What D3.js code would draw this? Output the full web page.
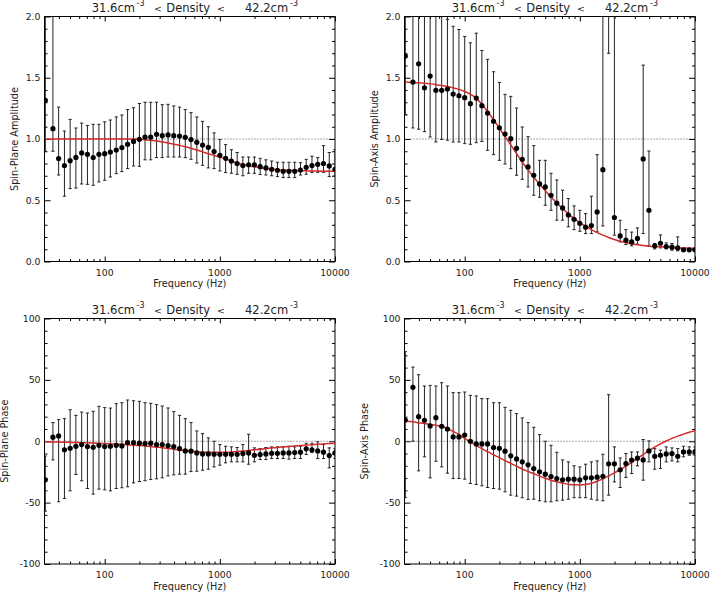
<!DOCTYPE html>
<html><head><meta charset="utf-8">
<script src="https://cdn.jsdelivr.net/npm/d3@7"></script>
<style>
body{margin:0;background:#fff}
text{font-family:"DejaVu Sans",sans-serif;fill:#222}
</style>
</head><body>
<svg id="chart" width="710" height="593" xmlns="http://www.w3.org/2000/svg"></svg>
<script>
// ---------- data ----------
const freq = [30.5, 35.5, 39.8, 44.7, 50.1, 56.2, 63.1, 70.8, 79.4, 89.1,
  100, 112, 126, 141, 158, 178, 200, 224, 251, 282, 316, 355, 398, 447, 501, 562, 631, 708, 794, 891,
  1000, 1122, 1259, 1413, 1585, 1778, 1995, 2239, 2512, 2818, 3162, 3548, 3981, 4467, 5012, 5623, 6310, 7079, 7943, 8913, 10000];

// Spin-plane amplitude
const spAmp = [1.315,1.084,0.84,0.783,0.823,0.85,0.886,0.875,0.848,0.875,
  0.88,0.894,0.91,0.93,0.957,0.98,0.997,1.016,1.016,1.038,
  1.027,1.033,1.027,1.024,1.014,0.995,0.973,0.951,0.932,0.897,
  0.867,0.842,0.82,0.80,0.783,0.79,0.79,0.774,0.764,0.753,
  0.745,0.736,0.736,0.736,0.747,0.769,0.783,0.793,0.80,0.78,0.753];
const spAmpHi = [2.6,2.3,1.26,1.065,1.16,1.09,1.13,1.11,1.12,1.12,
  1.14,1.155,1.18,1.196,1.24,1.255,1.29,1.30,1.30,1.30,
  1.28,1.283,1.27,1.26,1.24,1.215,1.18,1.144,1.10,1.05,
  0.995,0.954,0.913,0.89,0.853,0.853,0.853,0.842,0.83,0.82,
  0.81,0.81,0.81,0.81,0.807,0.834,0.859,0.848,0.946,0.89,0.913];
const spAmpLo = [0.9,0.90,0.706,0.533,0.595,0.60,0.633,0.63,0.622,0.65,
  0.663,0.69,0.717,0.734,0.758,0.78,0.777,0.83,0.83,0.848,
  0.848,0.853,0.853,0.853,0.848,0.834,0.804,0.785,0.764,0.758,
  0.739,0.726,0.72,0.712,0.70,0.72,0.72,0.71,0.706,0.70,
  0.693,0.685,0.685,0.685,0.706,0.712,0.726,0.728,0.728,0.693,0.70];
const spAmpModel = [1,1,1,1,1,1,1,1,1,1,1,1,1,1,1,1,
  0.998,0.994,0.99,0.983,0.976,0.968,0.958,0.948,0.937,0.924,
  0.91,0.895,0.88,0.866,0.852,0.837,0.82,0.805,0.792,0.782,
  0.773,0.766,0.76,0.754,0.75,0.747,0.745,0.743,0.741,0.74,
  0.739,0.738,0.737,0.736,0.736];

// Spin-axis amplitude
const saAmp = [1.677,1.465,1.614,1.418,1.514,1.397,1.397,1.408,1.367,1.353,
  1.337,1.288,1.334,1.272,1.212,1.144,1.092,1.04,1.003,0.924,
  0.834,0.772,0.704,0.633,0.609,0.541,0.476,0.437,0.38,0.345,
  0.312,0.28,0.293,0.405,0.75,2.6,0.359,0.209,0.174,0.16,
  0.188,0.837,0.418,0.128,0.149,0.122,0.117,0.111,0.095,0.095,0.095];
const saAmpHi = [2.5,2.3,2.3,2.3,2.3,2.2,2.2,1.976,1.92,1.894,
  1.837,1.785,1.864,1.723,1.65,1.549,1.462,1.364,1.348,1.253,
  1.098,1.019,0.946,0.826,0.826,0.72,0.666,0.582,0.514,0.454,
  0.418,0.391,0.533,0.872,2.5,4.0,2.4,0.337,0.26,0.24,
  0.274,1.603,0.902,0.147,0.217,0.152,0.147,0.201,0.106,0.106,0.11];
const saAmpLo = [1.2,1.09,1.08,1.06,1.016,0.976,0.997,0.99,0.976,0.976,
  0.962,0.957,0.97,0.98,0.908,0.872,0.826,0.796,0.758,0.704,
  0.671,0.609,0.541,0.524,0.459,0.418,0.337,0.337,0.283,0.26,
  0.247,0.228,0.228,0.242,0.29,1.70,0.215,0.16,0.139,0.128,
  0.141,0.228,0.128,0.103,0.111,0.103,0.092,0.087,0.082,0.082,0.085];
const saAmpModel = [1.465,1.462,1.459,1.455,1.45,1.444,1.437,1.428,1.417,1.405,
  1.388,1.366,1.332,1.283,1.224,1.157,1.088,1.02,0.952,0.882,
  0.812,0.748,0.688,0.632,0.578,0.527,0.478,0.432,0.389,0.35,
  0.318,0.288,0.26,0.236,0.215,0.196,0.18,0.166,0.155,0.144,
  0.136,0.13,0.125,0.122,0.12,0.117,0.114,0.111,0.11,0.109,0.108];

// Spin-plane phase
const spPh = [-31.4,3.3,4.3,-7.0,-5.7,-4.1,-2.7,-4.3,-4.9,-3.3,
  -4.3,-4.1,-3.3,-3.8,-1.1,-1.1,-1.6,-1.9,-1.6,-2.7,
  -2.7,-3.5,-4.3,-6.0,-7.9,-8.1,-9.5,-10.3,-10.3,-10.6,
  -10.6,-10.6,-10.6,-10.6,-10.0,-9.5,-11.4,-10.8,-10.3,-9.8,
  -9.8,-9.5,-9.5,-9.2,-8.9,-6.2,-7.0,-7.9,-8.9,-11.7,-9.5];
const spPhHi = [-12,15.2,17.6,18.4,25.7,21.1,23.8,23,24.4,28.5,
  27.4,27,30.6,31.4,33.6,33,32.5,31.4,30.9,29.8,
  28.7,27.1,24.1,21.1,18.4,15.2,8.4,6.2,2.7,0,
  -2.7,-4.1,-4.6,-5.1,-2.7,5.7,-5.4,-6,-5.1,-4.6,
  -4.6,-4.6,-4.1,-4.6,-4.1,-1.6,-1.6,-0.5,-2.7,-5.4,-6];
const spPhLo = [-57,-15.2,-49.3,-46.6,-40.4,-27.1,-32.2,-38.5,-43,-39,
  -39.6,-40.4,-38.5,-37.9,-37.1,-33.9,-32.8,-32.2,-31.2,-30.6,
  -29.8,-28.2,-27.4,-26.8,-26.8,-24.7,-24.4,-23.6,-22.8,-20.9,
  -19.5,-17.6,-16.8,-16.8,-16.8,-18.7,-16.8,-14.9,-14.9,-14.1,
  -14.1,-14.1,-14.6,-14.1,-14.1,-10.8,-9.2,-14.1,-14.1,-21.7,-14];
const spPhModel = [-0.5,-0.6,-0.7,-0.8,-0.9,-1.0,-1.2,-1.3,-1.5,-1.7,
  -1.9,-2.1,-2.3,-2.6,-2.9,-3.2,-3.5,-3.9,-4.3,-4.8,
  -5.3,-5.9,-6.5,-7.1,-7.6,-8.1,-8.5,-8.8,-9.0,-9.0,
  -9.0,-8.9,-8.7,-8.4,-8.0,-7.5,-7.0,-6.5,-6.0,-5.5,
  -5.0,-4.6,-4.2,-3.8,-3.4,-3.1,-2.8,-2.5,-2.2,-1.9,-1.7];

// Spin-axis phase
const saPh = [17.3,43.9,20,17.1,12.5,19.2,12.2,10,3.5,3.5,
  5.1,0,-2.2,-2.2,-2.2,-5.1,-5.7,-8.1,-11.9,-14.4,
  -16.8,-19.2,-22.2,-24.9,-26.8,-28.7,-30.4,-31.4,-30.9,-30.9,
  -31.4,-29.8,-29.8,-29.3,-28.5,-18.4,-18.4,-23.3,-18.2,-15.4,
  -13.8,-15.2,-7.9,-12.2,-11.4,-10.3,-10,-12.2,-8.7,-8.7,-8.4];
const saPhHi = [73,60.4,54.2,45,45.5,45,47.7,45,39.6,39.6,
  40.1,37.4,36.9,34.7,34.7,31.4,31.4,27.6,25.2,22.5,
  19,15.2,11.4,5.4,0,-3.3,-9,-15.2,-16.8,-20,
  -20.9,-18.7,-16.8,-16,-10.6,37.9,-4.6,-13.6,-10,-8.7,
  -8.7,1.4,0.3,-6,-7.3,-4.6,-5.4,-6,-4.1,-4.6,-4.6];
const saPhLo = [-46,0,-24.1,-12.7,-29.8,-16.3,-20.9,-26,-30.4,-30.4,
  -30.9,-34.4,-35.2,-36.3,-37.7,-38.5,-39,-41.2,-43.9,-44.7,
  -46,-47.4,-47.2,-48.5,-49.3,-49.3,-48.5,-48,-47.2,-46,
  -46,-46,-47.2,-48,-48.5,-43.9,-33.1,-37.7,-29.5,-26.3,
  -20,-31.7,-16.8,-22.8,-22.2,-16.8,-16,-16.8,-12.7,-11.4,-11.4];
const saPhModel = [16.5,15.8,15.1,14.4,13.7,13.0,12.0,10.5,8.0,5.5,
  2.4,-0.5,-3.3,-6.0,-8.5,-11.0,-13.4,-15.8,-18.0,-20.3,
  -22.6,-24.6,-26.5,-28.4,-30.1,-31.7,-33.0,-34.1,-35.0,-35.5,
  -35.6,-35.2,-34.2,-32.6,-30.6,-28.2,-25.7,-23.0,-20.2,-17.2,
  -14.0,-10.8,-7.7,-4.8,-2.2,0.2,2.3,4.2,5.8,7.3,8.6];

// ticks / labels
const xMajorTicks = [100, 1000, 10000];
const xTickLabels = ["100", "1000", "10000"];
const ampTicks = [0, 0.5, 1.0, 1.5, 2.0];
const ampTickLabels = ["0.0", "0.5", "1.0", "1.5", "2.0"];
const phTicks = [-100, -50, 0, 50, 100];
const phTickLabels = ["-100", "-50", "0", "50", "100"];
const titleParts = {lo: "31.6cm", hi: "42.2cm", exp: "-3", mid: "Density", lt: "<"};

// ---------- layout ----------
const svg = d3.select("#chart");
svg.append("rect").attr("width", 710).attr("height", 593).attr("fill", "#fff");

const xMinor = [];
[10, 100, 1000].forEach(d => { for (let k = 2; k <= 9; k++) { const v = d * k; if (v > 30 && v < 10000) xMinor.push(v); } });

const panels = [
  {id: "tl", x0: 44.5, x1: 335, y0: 16.5, y1: 261.5, dom: [0, 2], ticks: ampTicks, tlabels: ampTickLabels, minorStep: 0.1,
   val: spAmp, lo: spAmpLo, hi: spAmpHi, model: spAmpModel, ref: 1, label: "Spin-Plane Amplitude", labX: 18},
  {id: "tr", x0: 404.5, x1: 695, y0: 16.5, y1: 261.5, dom: [0, 2], ticks: ampTicks, tlabels: ampTickLabels, minorStep: 0.1,
   val: saAmp, lo: saAmpLo, hi: saAmpHi, model: saAmpModel, ref: 1, label: "Spin-Axis Amplitude", labX: 378},
  {id: "bl", x0: 44.5, x1: 335, y0: 318.5, y1: 564, dom: [-100, 100], ticks: phTicks, tlabels: phTickLabels, minorStep: 10,
   val: spPh, lo: spPhLo, hi: spPhHi, model: spPhModel, ref: 0, label: "Spin-Plane Phase", labX: 8},
  {id: "br", x0: 404.5, x1: 695, y0: 318.5, y1: 564, dom: [-100, 100], ticks: phTicks, tlabels: phTickLabels, minorStep: 10,
   val: saPh, lo: saPhLo, hi: saPhHi, model: saPhModel, ref: 0, label: "Spin-Axis Phase", labX: 368}
];

const defs = svg.append("defs");

panels.forEach(p => {
  const x = d3.scaleLog().domain([30, 10000]).range([p.x0, p.x1]);
  const y = d3.scaleLinear().domain(p.dom).range([p.y1, p.y0]);
  const g = svg.append("g");

  defs.append("clipPath").attr("id", "clip-" + p.id)
    .append("rect").attr("x", p.x0).attr("y", p.y0).attr("width", p.x1 - p.x0).attr("height", p.y1 - p.y0);

  const yMinor = d3.range(p.dom[0], p.dom[1] + p.minorStep / 2, p.minorStep)
    .filter(v => !p.ticks.some(t => Math.abs(t - v) < 1e-6));

  // axes (ticks inward, all four sides)
  const axes = [
    [d3.axisBottom(x).tickValues(xMajorTicks).tickSize(-5), `translate(0,${p.y1})`],
    [d3.axisBottom(x).tickValues(xMinor).tickSize(-2.5), `translate(0,${p.y1})`],
    [d3.axisTop(x).tickValues(xMajorTicks).tickSize(-5), `translate(0,${p.y0})`],
    [d3.axisTop(x).tickValues(xMinor).tickSize(-2.5), `translate(0,${p.y0})`],
    [d3.axisLeft(y).tickValues(p.ticks).tickSize(-6), `translate(${p.x0},0)`],
    [d3.axisLeft(y).tickValues(yMinor).tickSize(-3), `translate(${p.x0},0)`],
    [d3.axisRight(y).tickValues(p.ticks).tickSize(-6), `translate(${p.x1},0)`],
    [d3.axisRight(y).tickValues(yMinor).tickSize(-3), `translate(${p.x1},0)`]
  ];
  axes.forEach(([ax, tr]) => {
    const a = g.append("g").attr("transform", tr).call(ax.tickFormat("").tickSizeOuter(0));
    a.select(".domain").remove();
    a.selectAll("line").attr("stroke", "#000").attr("stroke-width", 1);
  });

  // frame
  g.append("rect").attr("x", p.x0).attr("y", p.y0).attr("width", p.x1 - p.x0).attr("height", p.y1 - p.y0)
    .attr("fill", "none").attr("stroke", "#000").attr("stroke-width", 1);

  // tick labels
  g.selectAll(".xl").data(xMajorTicks).join("text")
    .attr("x", d => x(d)).attr("y", p.y1 + 14.3).attr("text-anchor", "middle")
    .attr("font-size", 9.3).text((d, i) => xTickLabels[i]);
  g.selectAll(".yl").data(p.ticks).join("text")
    .attr("x", p.x0 - 4).attr("y", d => y(d)).attr("dy", "0.36em").attr("text-anchor", "end")
    .attr("font-size", 9.3).text((d, i) => p.tlabels[i]);

  // axis titles
  g.append("text").attr("x", (p.x0 + p.x1) / 2).attr("y", p.y1 + 25.8).attr("text-anchor", "middle")
    .attr("font-size", 9.7).text("Frequency (Hz)");
  g.append("text").attr("transform", `translate(${p.labX},${(p.y0 + p.y1) / 2}) rotate(-90)`)
    .attr("text-anchor", "middle").attr("font-size", 9.7).text(p.label);

  // title
  const ty = p.y0 - 4.5;
  const t = g.append("text").attr("y", ty).attr("font-size", 11.5);
  t.append("tspan").attr("x", p.x0 + 47.3).text(titleParts.lo);
  t.append("tspan").attr("x", p.x0 + 92).attr("y", ty - 6.5).attr("font-size", 8).text(titleParts.exp);
  t.append("tspan").attr("x", p.x0 + 109.5).attr("y", ty).attr("font-size", 9.5).text(titleParts.lt);
  t.append("tspan").attr("x", p.x0 + 121.8).attr("font-size", 11.5).text(titleParts.mid);
  t.append("tspan").attr("x", p.x0 + 172.5).attr("font-size", 9.5).text(titleParts.lt);
  t.append("tspan").attr("x", p.x0 + 200.5).attr("font-size", 11.5).text(titleParts.hi);
  t.append("tspan").attr("x", p.x0 + 245.5).attr("y", ty - 6.5).attr("font-size", 8).text(titleParts.exp);

  // plot content (clipped)
  const c = g.append("g").attr("clip-path", `url(#clip-${p.id})`);
  c.append("line").attr("x1", p.x0).attr("x2", p.x1).attr("y1", y(p.ref)).attr("y2", y(p.ref))
    .attr("stroke", "#555").attr("stroke-width", 1).attr("stroke-dasharray", "1,2");

  const pts = freq.map((f, i) => ({f, v: p.val[i], lo: p.lo[i], hi: p.hi[i], m: p.model[i]}));

  c.selectAll(".eb").data(pts).join("line")
    .attr("x1", d => x(d.f)).attr("x2", d => x(d.f))
    .attr("y1", d => y(d.lo)).attr("y2", d => y(d.hi))
    .attr("stroke", "#222").attr("stroke-width", 1);
  ["lo", "hi"].forEach(k => {
    c.selectAll(".cap" + k).data(pts).join("line")
      .attr("x1", d => x(d.f) - 1.6).attr("x2", d => x(d.f) + 1.6)
      .attr("y1", d => y(d[k])).attr("y2", d => y(d[k]))
      .attr("stroke", "#222").attr("stroke-width", 1);
  });

  c.append("path").datum(pts)
    .attr("d", d3.line().x(d => x(d.f)).y(d => y(d.m)).curve(d3.curveMonotoneX))
    .attr("fill", "none").attr("stroke", "#d42a2a").attr("stroke-width", 1.5);

  c.selectAll(".dot").data(pts).join("circle")
    .attr("cx", d => x(d.f)).attr("cy", d => y(d.v)).attr("r", 2.6).attr("fill", "#000");
});
</script>
</body></html>
